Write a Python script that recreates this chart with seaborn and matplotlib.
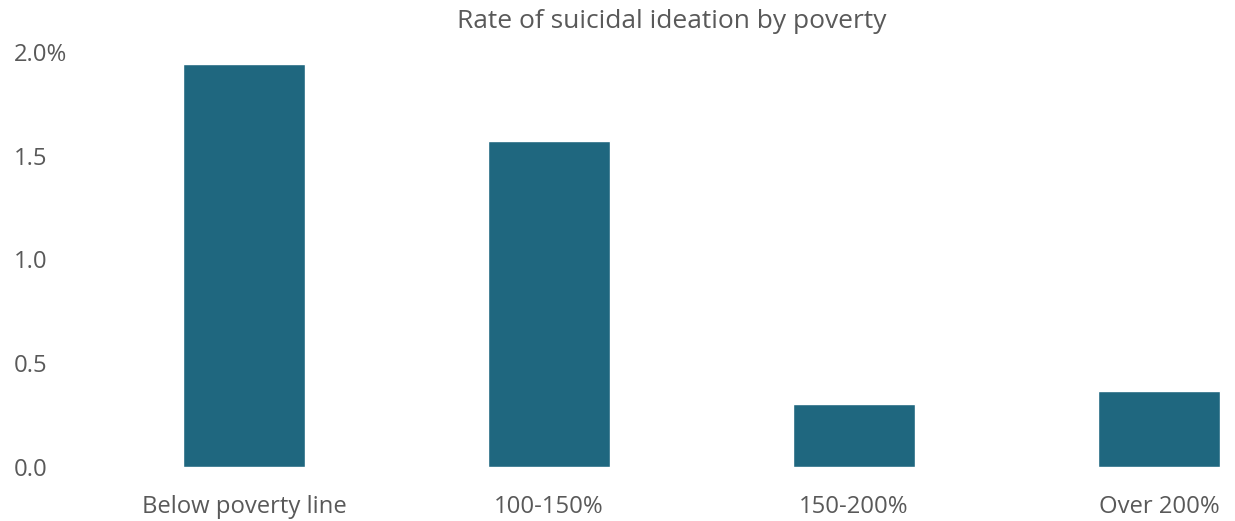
import matplotlib
matplotlib.use("Agg")
import matplotlib.pyplot as plt
import seaborn as sns
import pandas as pd

categories = ["Below poverty line", "100-150%", "150-200%", "Over 200%"]
rates = [1.94, 1.57, 0.305, 0.365]
yticks = [0.0, 0.5, 1.0, 1.5, 2.0]
ytick_labels = ["0.0", "0.5", "1.0", "1.5", "2.0%"]
title = "Rate of suicidal ideation by poverty"

sns.set_theme(style="white")
plt.rcParams["font.family"] = ["Open Sans", "DejaVu Sans"]

W, H = 1235, 521
fig = plt.figure(figsize=(W / 100, H / 100), dpi=100)
left, right, bottom, top = 91.5, 1230, 467, 52
ax = fig.add_axes([left / W, (H - bottom) / H, (right - left) / W, (bottom - top) / H])

df = pd.DataFrame({"cat": categories, "rate": rates})
sns.barplot(data=df, x="cat", y="rate", color="#1f677f", saturation=1, width=0.4, ax=ax)

ax.set_xlim(-0.5, 3.233)
ax.set_ylim(0, 2.0)
ax.set_yticks(yticks)
ax.set_yticklabels(ytick_labels)
ax.set_xlabel("")
ax.set_ylabel("")
for s in ax.spines.values():
    s.set_visible(False)

txt = "#595959"
ax.tick_params(axis="y", length=0, pad=(left - 14) * 0.72, labelsize=17.2, labelcolor=txt)
ax.tick_params(axis="x", length=0, pad=20, labelsize=17.2, labelcolor=txt)
for lab in ax.get_yticklabels():
    lab.set_horizontalalignment("left")

fig.text(672 / W, 1 - 22 / H, title, ha="center", va="center", fontsize=19, color=txt)

fig.savefig("out.png", dpi=100)
